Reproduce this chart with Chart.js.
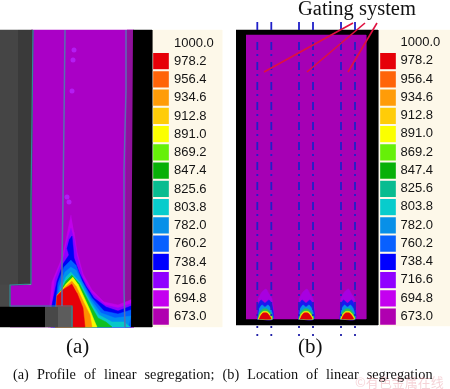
<!DOCTYPE html>
<html><head><meta charset="utf-8">
<style>html,body{margin:0;padding:0;background:#fff}canvas{display:block;filter:blur(0.45px)}</style>
<script src="https://cdn.jsdelivr.net/npm/chart.js@4/dist/chart.umd.min.js"></script>
</head><body><canvas id="c" width="450" height="389"></canvas>
<script>
// temperature legend
const legendValues=[978.2,956.4,934.6,912.8,891.0,869.2,847.4,825.6,803.8,782.0,760.2,738.4,716.6,694.8,673.0];
const legendColors=['#e60008','#ff6408','#ff9c08','#ffcc08','#fbff00','#66f008','#08b008','#08bc90','#08cccc','#0890e8','#0860ff','#0000ff','#9000ff','#c400f0','#b000b0'];
const legendLabels=['1000.0','978.2','956.4','934.6','912.8','891.0','869.2','847.4','825.6','803.8','782.0','760.2','738.4','716.6','694.8','673.0'];
const legendPanelA=[[152,30],[222,30],[222,327],[152,327]];
const legendPanelB=[[379,30],[450,30],[450,326],[379,326]];
const swatchX=[161,388];
// panel a: casting section
const aFieldPoly=[[31,30],[134,30],[134,327],[10,327],[10,285],[31,285]];
const aDarkBand=[[127,30],[133,30],[132,327],[125,327]];
const aGreyLeft1=[[0,30],[18,30],[18,285],[0,285]];
const aGreyLeft2=[[18,30],[33,30],[31,284],[18,285]];
const aGreyStep=[[0,285],[10,285],[10,307],[0,307]];
const aBlackRight=[[133,30],[152,30],[152,327],[131,327]];
const aBlackBox=[[0,307],[45,307],[45,327],[0,327]];
const aGreyBox1=[[45,307],[58,307],[58,327],[45,327]];
const aGreyBox2=[[58,307],[72,307],[72,327],[58,327]];
const aMoldEdge=[[33,30],[32,120],[31,200],[31,284],[10,285],[10,306],[72,306],[72,327]];
const aLineMid=[[65,30],[64,120],[63,200],[62,260],[62,306]];
const aLineRight=[[126,30],[126,90],[124,170],[124,290],[125,327]];
const aSpots=[[73,60],[74,50],[72,91],[67,197],[69,202]];
// contour layers in panel a, outer to inner
const c694=[[71,215],[66,240],[62,258],[52,282],[48,327],[134,327],[133,299],[118,305],[104,302],[92,290],[83,274],[77,252],[74,232]];
const c716=[[71,228],[67,242],[64,256],[55,279],[50,327],[134,327],[133,303],[118,308],[105,305],[92,293],[83,278],[77,256],[74,238]];
const c738=[[69,240],[72,236],[73,246],[74,258],[79,272],[86,286],[94,298],[106,307],[118,311],[131,306],[131,327],[51,327],[52,305],[57,281],[63,264],[69,255],[67,248]];
const c760=[[71,260],[64,267],[58,283],[53,327],[131,327],[131,310],[118,314],[104,311],[92,298],[82,281],[76,265]];
const c782=[[71,267],[65,272],[59,287],[54,327],[128,327],[131,316],[115,318],[101,313],[90,298],[81,280],[76,270]];
const c803=[[71,272],[66,277],[60,290],[55,327],[130,327],[124,322],[112,322],[99,315],[90,301],[80,282]];
const c847=[[72,275],[66,281],[60,292],[55,327],[112,327],[106,322],[98,318],[91,306],[79,283]];
const c891=[[73,277],[66,284],[59,294],[55,327],[97,327],[94,320],[90,310],[78,284]];
const c934=[[72,281],[65,287],[57,295],[55,327],[92,327],[90,315],[84,303],[76,286]];
const c978=[[72,284],[64,289],[57,296],[55,327],[85,327],[83,308],[77,293]];
// panel b: plate section
const bFrameOuter=[[236,30],[378,30],[378,325],[236,325]];
const bFieldInner=[[246,35],[366,35],[366,319],[246,319]];
const gateXs=[257.3,271.3,299,313,341,355];
const gateTop=22, gateBottom=319, gateDotTop=326, gateDotBottom=337;
const bumpCenters=[265,306,347.5];
const bumpOffsets694=[[-7,-20],[-3,-27],[1,-30],[4,-25],[7,-20],[8,0],[-8,0]];
const bumpOffsets738=[[-7,-14],[-4,-19],[0,-16],[4,-19],[7,-14],[8,0],[-8,0]];
const bumpOffsets782=[[-6,-10],[-3,-14],[0,-12],[3,-14],[6,-10],[7.5,0],[-7.5,0]];
const bumpOffsets847=[[-6,-6],[-2,-10],[2,-10],[6,-6],[7.5,0],[-7.5,0]];
const bumpOffsets912=[[-5.5,-4],[-2,-7.5],[2,-7.5],[5.5,-4],[7,0],[-7,0]];
const bumpOffsets978=[[-5,-2.5],[-2,-6],[2,-6],[5,-2.5],[6,0],[-6,0]];
const bLeaders=[[[264,72],[353,23]],[[307,72],[365,23]],[[348,72],[377,23]]];
// annotations
const gatingLabel='Gating system', subA='(a)', subB='(b)';
const caption='(a) Profile of linear segregation; (b) Location of linear segregation';
const watermark='©有色金属在线';

const pts=a=>a.map(([x,y])=>({x,y}));
const ds=[];
function poly(a,color,extra){ds.push(Object.assign({type:'line',data:pts(a),fill:'shape',backgroundColor:color,borderColor:color,borderWidth:0.5,pointRadius:0,tension:0,xAxisID:'x',yAxisID:'y'},extra||{}));}
function stroke(a,color,w,extra){ds.push(Object.assign({type:'line',data:pts(a),fill:false,borderColor:color,borderWidth:w,pointRadius:0,tension:0,xAxisID:'x',yAxisID:'y'},extra||{}));}

poly(legendPanelA,'#fdf8e9');poly(legendPanelB,'#fdf8e9');
poly(aFieldPoly,'#aa00c6');
poly(aDarkBand,'#90109c');
poly(c694,'#c000ea');
poly(c716,'#9000ff');poly(c738,'#0000f5');poly(c760,'#0060ff');poly(c782,'#0090f0');poly(c803,'#08c8c8');
poly(c847,'#10c020');poly(c891,'#f8f800');poly(c934,'#ff9000');poly(c978,'#e60008');
poly(aGreyLeft1,'#454545');poly(aGreyLeft2,'#3a3a3a');poly(aGreyStep,'#484848');
poly(aBlackRight,'#000000');poly(aBlackBox,'#000000');poly(aGreyBox1,'#484848');poly(aGreyBox2,'#5c5c5c');
stroke(aMoldEdge,'#2f8c98',1.2);
stroke(aLineMid,'#5a6fb0',1.5);
stroke(aLineRight,'#5a6fb0',1.5);
ds.push({type:'line',data:pts(aSpots),showLine:false,pointRadius:2.5,pointBackgroundColor:'#b41cf2',pointBorderWidth:0,xAxisID:'x',yAxisID:'y'});

poly(bFrameOuter,'#000000');
poly(bFieldInner,'#a600b4');
bumpCenters.forEach(cx=>{
 [[bumpOffsets694,'#a800e0'],[bumpOffsets738,'#1818f0'],[bumpOffsets782,'#0890e8'],[bumpOffsets847,'#20c060'],[bumpOffsets912,'#f8e800'],[bumpOffsets978,'#e00008']].forEach(([o,col])=>{
  poly(o.map(([dx,dy])=>[cx+dx,319+dy]),col,{tension:0.25});
 });
});
gateXs.forEach(x=>{
 stroke([[x,gateTop],[x,30]],'#2020c8',1.8);
 stroke([[x,42],[x,gateBottom]],'#2020c8',1.8,{borderDash:[8,4,2,6]});
 stroke([[x,gateDotTop],[x,gateDotBottom]],'#2020a8',1.8,{borderDash:[2,6]});
});
bLeaders.forEach(l=>stroke(l,'#e01040',1.6));
ds.forEach((d,i)=>{d.order=1000-i;});
// legend swatches via bars on the temperature scale
legendValues.forEach((v,i)=>{
 ds.push({type:'bar',data:swatchX.map(x=>({x,y:[v+10,v-9.6]})),backgroundColor:legendColors[i],borderColor:'#f4f4ee',borderWidth:0.5,barThickness:16,grouped:false,xAxisID:'x',yAxisID:'yT',order:-1});
});

const textPlugin={id:'text',
 beforeDraw(ch){const g=ch.ctx;g.save();g.fillStyle='#fff';g.fillRect(0,0,ch.width,ch.height);g.restore();},
 afterDatasetsDraw(ch){
  const g=ch.ctx,sx=ch.scales.x,sy=ch.scales.y,st=ch.scales.yT;
  g.save();g.textBaseline='middle';g.textAlign='left';
  g.fillStyle='#141414';g.font='13px "Liberation Sans"';
  const vals=[1000].concat(legendValues);
  legendLabels.forEach((t,i)=>{const y=st.getPixelForValue(vals[i]);
   g.fillText(t,sx.getPixelForValue(174),y);g.fillText(t,sx.getPixelForValue(400.5),y-0.5);});
  g.textBaseline='alphabetic';
  g.fillStyle='#111';
  g.font='20.5px "Liberation Serif"';g.fillText(gatingLabel,sx.getPixelForValue(298),sy.getPixelForValue(15));
  g.font='21px "Liberation Serif"';g.fillText(subA,sx.getPixelForValue(66),sy.getPixelForValue(353));
  g.fillText(subB,sx.getPixelForValue(298),sy.getPixelForValue(353));
  g.font='14.3px "Liberation Serif"';g.wordSpacing='4.5px';g.fillText(caption,sx.getPixelForValue(13),sy.getPixelForValue(379));g.wordSpacing='0px';
  g.fillStyle='rgba(225,130,140,0.35)';g.font='13px "Noto Sans CJK SC"';g.fillText(watermark,sx.getPixelForValue(355),sy.getPixelForValue(387));
  g.restore();
 }};

new Chart(document.getElementById('c'),{type:'bar',data:{datasets:ds},plugins:[textPlugin],options:{
 responsive:false,animation:false,events:[],layout:{padding:0,autoPadding:false},
 plugins:{legend:{display:false},tooltip:{enabled:false},filler:{propagate:false}},
 scales:{
  x:{type:'linear',min:0,max:450,display:false,offset:false},
  y:{type:'linear',min:0,max:389,reverse:true,display:false},
  yT:{type:'linear',min:586.7,max:1051.4,display:false}
 }}});
</script></body></html>
